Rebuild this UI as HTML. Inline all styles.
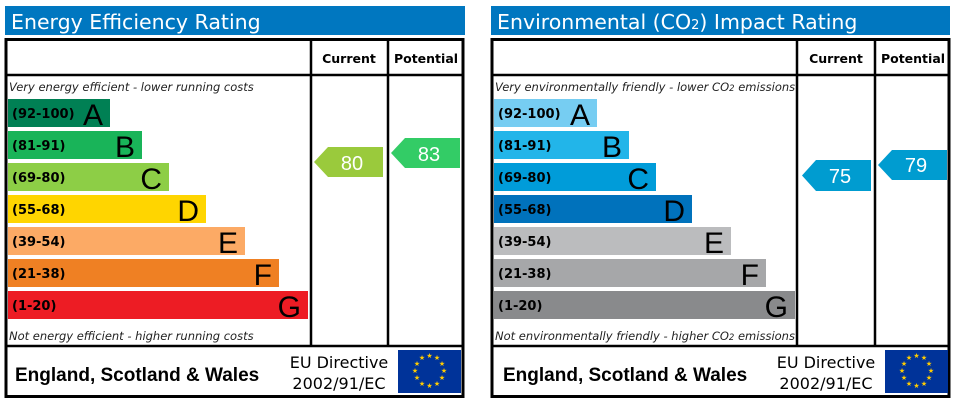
<!DOCTYPE html>
<html><head><meta charset="utf-8"><style>
html,body{margin:0;padding:0;background:#fff;}
svg{display:block;}
text{font-family:"DejaVu Sans","Liberation Sans",sans-serif;}
text.l{font-family:"Liberation Sans",sans-serif;}
</style></head><body>
<svg width="957" height="404" viewBox="0 0 957 404" xmlns="http://www.w3.org/2000/svg">
<!-- LEFT PANEL -->
<rect x="5" y="6" width="460" height="29" fill="#0077c0"/>
<text x="11" y="29" font-size="20.5" fill="#fff">Energy Efficiency Rating</text>
<rect x="6" y="39.5" width="457" height="357" fill="none" stroke="#000" stroke-width="3"/>
<line x1="311" y1="39" x2="311" y2="346" stroke="#000" stroke-width="2.5"/>
<line x1="388" y1="39" x2="388" y2="346" stroke="#000" stroke-width="2.5"/>
<line x1="6" y1="75" x2="463" y2="75" stroke="#000" stroke-width="2.5"/>
<line x1="6" y1="346" x2="463" y2="346" stroke="#000" stroke-width="2.5"/>
<text x="349" y="63" font-size="12.5" font-weight="bold" text-anchor="middle">Current</text>
<text x="426" y="63" font-size="12.5" font-weight="bold" text-anchor="middle">Potential</text>
<text x="9" y="91" font-size="11.5" font-style="italic" fill="#222">Very energy efficient - lower running costs</text>
<text x="9" y="340" font-size="11.5" font-style="italic" fill="#222">Not energy efficient - higher running costs</text>
<g font-size="13" font-weight="bold">
<rect x="8" y="99" width="102" height="28" fill="#008054"/><text x="12" y="118">(92-100)</text><text class="l" x="103" y="125" font-size="30" font-weight="normal" text-anchor="end">A</text>
<rect x="8" y="131" width="134" height="28" fill="#19b459"/><text x="12" y="150">(81-91)</text><text class="l" x="135" y="157" font-size="30" font-weight="normal" text-anchor="end">B</text>
<rect x="8" y="163" width="161" height="28" fill="#8dce46"/><text x="12" y="182">(69-80)</text><text class="l" x="162" y="189" font-size="30" font-weight="normal" text-anchor="end">C</text>
<rect x="8" y="195" width="198" height="28" fill="#ffd500"/><text x="12" y="214">(55-68)</text><text class="l" x="199" y="221" font-size="30" font-weight="normal" text-anchor="end">D</text>
<rect x="8" y="227" width="237" height="28" fill="#fcaa65"/><text x="12" y="246">(39-54)</text><text class="l" x="238" y="253" font-size="30" font-weight="normal" text-anchor="end">E</text>
<rect x="8" y="259" width="271" height="28" fill="#ef8023"/><text x="12" y="278">(21-38)</text><text class="l" x="272" y="285" font-size="30" font-weight="normal" text-anchor="end">F</text>
<rect x="8" y="291" width="300" height="28" fill="#ed1c24"/><text x="12" y="310">(1-20)</text><text class="l" x="301" y="317" font-size="30" font-weight="normal" text-anchor="end">G</text>
</g>
<polygon points="314,162 328,147 383,147 383,177 328,177" fill="#9aca3c"/>
<text class="l" x="352" y="170" font-size="20" fill="#fff" text-anchor="middle">80</text>
<polygon points="391,153 405,138 460,138 460,168 405,168" fill="#33cc66"/>
<text class="l" x="429" y="161" font-size="20" fill="#fff" text-anchor="middle">83</text>
<text class="l" x="15" y="381" font-size="19" font-weight="bold">England, Scotland &amp; Wales</text>
<text x="339" y="368" font-size="16" text-anchor="middle">EU Directive</text>
<text x="339" y="389" font-size="16" text-anchor="middle">2002/91/EC</text>
<rect x="398" y="350" width="63" height="43" fill="#003399"/>
<g fill="#ffcc00" font-size="7" text-anchor="middle">
<text x="429.5" y="358">★</text><text x="437" y="360">★</text><text x="442" y="366">★</text><text x="444" y="373">★</text><text x="442" y="380">★</text><text x="437" y="386">★</text><text x="429.5" y="388">★</text><text x="422" y="386">★</text><text x="417" y="380">★</text><text x="415" y="373">★</text><text x="417" y="366">★</text><text x="422" y="360">★</text>
</g>

<!-- RIGHT PANEL -->
<rect x="491" y="6" width="459" height="29" fill="#0077c0"/>
<text x="497" y="29" font-size="20.5" fill="#fff">Environmental (CO<tspan font-size="13">2</tspan>) Impact Rating</text>
<rect x="492" y="39.5" width="457" height="357" fill="none" stroke="#000" stroke-width="3"/>
<line x1="797" y1="39" x2="797" y2="346" stroke="#000" stroke-width="2.5"/>
<line x1="875" y1="39" x2="875" y2="346" stroke="#000" stroke-width="2.5"/>
<line x1="492" y1="75" x2="949" y2="75" stroke="#000" stroke-width="2.5"/>
<line x1="492" y1="346" x2="949" y2="346" stroke="#000" stroke-width="2.5"/>
<text x="836" y="63" font-size="12.5" font-weight="bold" text-anchor="middle">Current</text>
<text x="913" y="63" font-size="12.5" font-weight="bold" text-anchor="middle">Potential</text>
<text x="495" y="91" font-size="11.5" font-style="italic" fill="#222">Very environmentally friendly - lower CO<tspan font-size="8.5">2</tspan> emissions</text>
<text x="495" y="340" font-size="11.5" font-style="italic" fill="#222">Not environmentally friendly - higher CO<tspan font-size="8.5">2</tspan> emissions</text>
<g font-size="13" font-weight="bold">
<rect x="494" y="99" width="103" height="28" fill="#76cdf2"/><text x="498" y="118">(92-100)</text><text class="l" x="590" y="125" font-size="30" font-weight="normal" text-anchor="end">A</text>
<rect x="494" y="131" width="135" height="28" fill="#22b5e9"/><text x="498" y="150">(81-91)</text><text class="l" x="622" y="157" font-size="30" font-weight="normal" text-anchor="end">B</text>
<rect x="494" y="163" width="162" height="28" fill="#009cd9"/><text x="498" y="182">(69-80)</text><text class="l" x="649" y="189" font-size="30" font-weight="normal" text-anchor="end">C</text>
<rect x="494" y="195" width="198" height="28" fill="#0072bc"/><text x="498" y="214">(55-68)</text><text class="l" x="685" y="221" font-size="30" font-weight="normal" text-anchor="end">D</text>
<rect x="494" y="227" width="237" height="28" fill="#bbbcbe"/><text x="498" y="246">(39-54)</text><text class="l" x="724" y="253" font-size="30" font-weight="normal" text-anchor="end">E</text>
<rect x="494" y="259" width="272" height="28" fill="#a6a7a9"/><text x="498" y="278">(21-38)</text><text class="l" x="759" y="285" font-size="30" font-weight="normal" text-anchor="end">F</text>
<rect x="494" y="291" width="301" height="28" fill="#898a8c"/><text x="498" y="310">(1-20)</text><text class="l" x="788" y="317" font-size="30" font-weight="normal" text-anchor="end">G</text>
</g>
<polygon points="802,175.5 816,160 871,160 871,191 816,191" fill="#009cd0"/>
<text class="l" x="840" y="183" font-size="20" fill="#fff" text-anchor="middle">75</text>
<polygon points="878,165 892,150 947,150 947,180 892,180" fill="#009cd0"/>
<text class="l" x="916" y="172" font-size="20" fill="#fff" text-anchor="middle">79</text>
<text class="l" x="503" y="381" font-size="19" font-weight="bold">England, Scotland &amp; Wales</text>
<text x="826" y="368" font-size="16" text-anchor="middle">EU Directive</text>
<text x="826" y="389" font-size="16" text-anchor="middle">2002/91/EC</text>
<rect x="885" y="350" width="63" height="43" fill="#003399"/>
<g fill="#ffcc00" font-size="7" text-anchor="middle">
<text x="916.5" y="358">★</text><text x="924" y="360">★</text><text x="929" y="366">★</text><text x="931" y="373">★</text><text x="929" y="380">★</text><text x="924" y="386">★</text><text x="916.5" y="388">★</text><text x="909" y="386">★</text><text x="904" y="380">★</text><text x="902" y="373">★</text><text x="904" y="366">★</text><text x="909" y="360">★</text>
</g>
</svg>
</body></html>
